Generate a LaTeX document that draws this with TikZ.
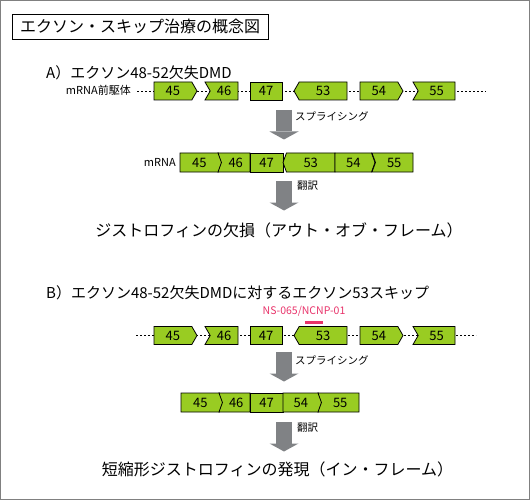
\documentclass[tikz,border=0pt]{standalone}
\usepackage{fontspec}
\setmainfont{Noto Sans CJK JP}
\usepackage{tikz}
\usepackage{xcolor}
\definecolor{exon_green}{HTML}{99CC22}
\definecolor{arrow_gray}{HTML}{808285}
\definecolor{aso_red}{HTML}{E8336A}
\usetikzlibrary{shapes.symbols,positioning,calc,arrows.meta}
\tikzset{EXON/.style={signal,draw,line width=0.8pt,fill=exon_green,minimum height=18pt,inner sep=0pt,outer sep=0pt,signal pointer angle=120,font=\fontsize{13}{13}\selectfont}}
\tikzset{MRNA/.style={EXON,minimum height=19pt,signal pointer angle=140}}
\tikzset{ARROW/.style={line width=16pt,draw=arrow_gray,-{Triangle[width=29pt,length=8pt,line width=0pt]}}}
\tikzset{BACKBONE/.style={line width=0.8pt,dash pattern=on 2pt off 2pt}}
\tikzset{LABEL/.style={font=\fontsize{10.5}{10.5}\selectfont,anchor=west,inner sep=0pt}}
\tikzset{HEAD/.style={font=\fontsize{15}{15}\selectfont,anchor=west,inner sep=0pt}}
\tikzset{RESULT/.style={font=\fontsize{16}{16}\selectfont,inner sep=0pt}}

\begin{document}
\begin{tikzpicture}[x=1pt,y=-1pt]

\useasboundingbox (0,0) rectangle (530,500);
\draw[gray,line width=1pt] (0.5,0.5) rectangle (529.5,499.5);

\node[draw,line width=0.8pt,minimum width=256pt,minimum height=25pt,inner sep=0pt,font=\fontsize{16}{16}\selectfont] (n_title) at (140,26.5) {エクソン・スキップ治療の概念図};

% A) out of frame
\node[HEAD] (n_head_a) at (46,73) {A）エクソン48-52欠失DMD};
\node[LABEL,anchor=east,font=\fontsize{11}{11}\selectfont] (n_pre_a) at (131,90) {mRNA前駆体};

\coordinate (c_a_start) at (137,91);
\coordinate (c_a_end) at (486,91);
\draw[BACKBONE] (c_a_start) -- (c_a_end);

\node[EXON,anchor=west,minimum width=43pt] (n_a45) at (154,91) {45};
\node[EXON,anchor=east,minimum width=33pt,signal from=west,signal to=nowhere] (n_a46) at (238,91) {46};
\node[EXON,rectangle,anchor=west,minimum width=32pt] (n_a47) at (250,91) {47};
\node[EXON,anchor=east,minimum width=53pt,signal to=west] (n_a53) at (347,91) {53};
\node[EXON,anchor=west,minimum width=43pt] (n_a54) at (360,91) {54};
\node[EXON,anchor=east,minimum width=42pt,signal from=west,signal to=nowhere] (n_a55) at (455,91) {55};

\coordinate (c_splice_a) at (284,110);
\draw[ARROW] (c_splice_a) -- ++(0,29.5);
\node[LABEL] (n_splice_a) at (295,116) {スプライシング};

\node[LABEL,anchor=east,font=\fontsize{11}{11}\selectfont] (n_mrna_a) at (176,162) {mRNA};
\node[MRNA,anchor=west,minimum width=42pt] (n_ma45) at (180,162.5) {45};
\node[MRNA,anchor=east,minimum width=32pt,signal from=west,signal to=nowhere] (n_ma46) at (250,162.5) {46};
\node[MRNA,rectangle,anchor=west,minimum width=33pt] (n_ma47) at (250,162.5) {47};
\node[MRNA,anchor=east,minimum width=52pt,signal to=west] (n_ma53) at (335,162.5) {53};
\node[MRNA,anchor=west,minimum width=40pt] (n_ma54) at (335,162.5) {54};
\node[MRNA,anchor=east,minimum width=41pt,signal from=west,signal to=nowhere] (n_ma55) at (413,162.5) {55};

\coordinate (c_trans_a) at (284,181);
\draw[ARROW] (c_trans_a) -- ++(0,29.5);
\node[LABEL] (n_trans_a) at (297,186) {翻訳};

\node[RESULT] (n_result_a) at (279,230) {ジストロフィンの欠損（アウト・オブ・フレーム）};

% B) exon 53 skipping
\node[HEAD] (n_head_b) at (46,293) {B）エクソン48-52欠失DMDに対するエクソン53スキップ};
\node[LABEL,anchor=center,text=aso_red,font=\fontsize{10.5}{10.5}\selectfont] (n_aso_lbl) at (304,311) {NS-065/NCNP-01};
\node[fill=aso_red,minimum width=18pt,minimum height=3pt,inner sep=0pt] (n_aso) at (314,322) {};

\coordinate (c_b_start) at (136,335.5);
\coordinate (c_b_end) at (476,335.5);
\draw[BACKBONE] (c_b_start) -- (c_b_end);

\node[EXON,anchor=west,minimum width=43pt] (n_b45) at (154,335.5) {45};
\node[EXON,anchor=east,minimum width=33pt,signal from=west,signal to=nowhere] (n_b46) at (238,335.5) {46};
\node[EXON,rectangle,anchor=west,minimum width=32pt] (n_b47) at (250,335.5) {47};
\node[EXON,anchor=east,minimum width=53pt,signal to=west] (n_b53) at (347,335.5) {53};
\node[EXON,anchor=west,minimum width=43pt] (n_b54) at (360,335.5) {54};
\node[EXON,anchor=east,minimum width=42pt,signal from=west,signal to=nowhere] (n_b55) at (455,335.5) {55};

\coordinate (c_splice_b) at (284,352);
\draw[ARROW] (c_splice_b) -- ++(0,29.5);
\node[LABEL] (n_splice_b) at (295,360) {スプライシング};

\node[MRNA,anchor=west,minimum width=42pt] (n_mb45) at (181,402.5) {45};
\node[MRNA,anchor=east,minimum width=31pt,signal from=west,signal to=nowhere] (n_mb46) at (250,402.5) {46};
\node[MRNA,rectangle,anchor=west,minimum width=33pt] (n_mb47) at (250,402.5) {47};
\node[MRNA,anchor=west,minimum width=39pt] (n_mb54) at (283,402.5) {54};
\node[MRNA,anchor=east,minimum width=41pt,signal from=west,signal to=nowhere] (n_mb55) at (359,402.5) {55};

\coordinate (c_trans_b) at (284,422);
\draw[ARROW] (c_trans_b) -- ++(0,29.5);
\node[LABEL] (n_trans_b) at (297,428) {翻訳};

\node[RESULT] (n_result_b) at (277.5,469) {短縮形ジストロフィンの発現（イン・フレーム）};

\end{tikzpicture}
\end{document}
